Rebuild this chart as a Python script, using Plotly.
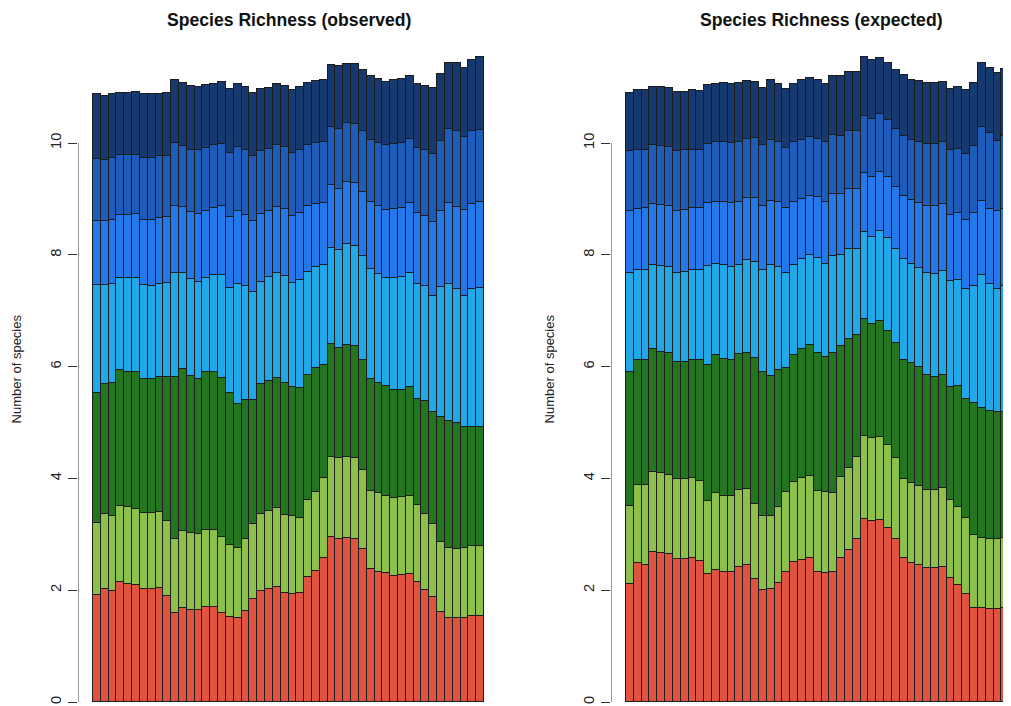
import plotly.graph_objects as go

sites = list(range(1, 51))

obs_red = [1.91,2.02,1.99,2.14,2.11,2.09,2.03,2.03,2.04,1.90, 1.59,1.68,1.65,1.64,1.70,1.70,1.60,1.52,1.50,1.62,
           1.84,1.98,2.02,2.05,1.95,1.93,1.95,2.23,2.35,2.57, 2.95,2.92,2.94,2.91,2.73,2.38,2.33,2.30,2.26,2.27,
           2.29,2.15,2.01,1.87,1.61,1.51,1.50,1.51,1.53,1.53]
obs_lgreen = [1.30,1.35,1.34,1.37,1.37,1.36,1.36,1.36,1.36,1.34, 1.33,1.38,1.37,1.36,1.37,1.37,1.35,1.29,1.25,1.29,
              1.35,1.39,1.40,1.42,1.40,1.39,1.35,1.39,1.41,1.43, 1.44,1.44,1.45,1.45,1.42,1.40,1.40,1.39,1.39,1.39,
              1.40,1.37,1.35,1.31,1.25,1.24,1.24,1.25,1.26,1.26]
obs_dgreen = [2.32,2.32,2.38,2.43,2.43,2.45,2.39,2.39,2.42,2.58, 2.90,2.90,2.82,2.78,2.83,2.83,2.85,2.71,2.58,2.49,
              2.22,2.31,2.33,2.33,2.35,2.31,2.32,2.23,2.21,2.03, 2.01,1.97,2.00,2.00,1.96,2.00,1.97,1.97,1.93,1.92,
              1.95,1.90,2.03,2.00,2.23,2.28,2.26,2.16,2.13,2.13]
obs_cyan = [1.93,1.77,1.77,1.65,1.67,1.68,1.68,1.67,1.66,1.68, 1.86,1.72,1.73,1.73,1.69,1.73,1.83,1.89,2.15,2.05,
            1.92,1.83,1.85,1.87,1.92,1.86,1.93,1.84,1.81,1.78, 1.73,1.76,1.81,1.79,1.86,1.97,1.96,1.92,2.00,2.03,
            2.04,2.05,2.05,2.09,2.33,2.45,2.38,2.35,2.47,2.49]
obs_blue = [1.15,1.14,1.14,1.13,1.14,1.15,1.17,1.17,1.18,1.18, 1.20,1.18,1.19,1.22,1.20,1.21,1.24,1.27,1.30,1.27,
            1.28,1.22,1.19,1.18,1.20,1.21,1.20,1.18,1.13,1.11, 1.11,1.09,1.10,1.13,1.15,1.19,1.22,1.23,1.24,1.23,
            1.25,1.27,1.25,1.31,1.37,1.45,1.47,1.53,1.52,1.53]
obs_mblue = [1.11,1.10,1.11,1.06,1.07,1.06,1.10,1.11,1.10,1.09, 1.12,1.09,1.12,1.14,1.12,1.12,1.12,1.14,1.15,1.16,
             1.15,1.12,1.11,1.11,1.11,1.12,1.13,1.10,1.09,1.09, 1.04,1.07,1.05,1.06,1.10,1.12,1.12,1.16,1.17,1.16,
             1.14,1.17,1.19,1.23,1.25,1.32,1.37,1.30,1.31,1.30]
obs_navy = [1.15,1.14,1.14,1.12,1.11,1.13,1.15,1.14,1.12,1.13, 1.12,1.12,1.14,1.13,1.13,1.10,1.10,1.14,1.13,1.12,
            1.13,1.11,1.09,1.10,1.09,1.13,1.13,1.11,1.11,1.12, 1.11,1.12,1.07,1.08,1.08,1.13,1.15,1.13,1.14,1.15,
            1.12,1.14,1.14,1.17,1.19,1.19,1.22,1.24,1.26,1.30]

exp_red = [2.11,2.48,2.45,2.69,2.66,2.64,2.55,2.55,2.57,2.52, 2.29,2.36,2.33,2.33,2.42,2.45,2.20,2.01,2.03,2.12,
           2.32,2.51,2.54,2.58,2.33,2.30,2.33,2.58,2.72,2.91, 3.28,3.24,3.26,3.12,2.91,2.57,2.49,2.45,2.39,2.39,
           2.42,2.21,2.09,1.94,1.69,1.68,1.66,1.66,1.68,1.69]
exp_lgreen = [1.39,1.41,1.44,1.43,1.43,1.42,1.44,1.44,1.43,1.44, 1.30,1.37,1.36,1.36,1.38,1.36,1.35,1.31,1.30,1.36,
              1.43,1.43,1.47,1.47,1.45,1.45,1.41,1.44,1.46,1.48, 1.48,1.48,1.48,1.48,1.45,1.42,1.43,1.42,1.41,1.41,
              1.40,1.40,1.39,1.35,1.30,1.26,1.26,1.26,1.26,1.26]
exp_dgreen = [2.41,2.22,2.22,2.20,2.18,2.18,2.09,2.10,2.12,2.16, 2.44,2.47,2.45,2.42,2.43,2.44,2.61,2.58,2.51,2.46,
              2.22,2.27,2.31,2.34,2.46,2.43,2.50,2.34,2.32,2.18, 2.10,2.04,2.08,2.04,2.06,2.12,2.14,2.12,2.05,2.02,
              2.03,2.03,2.18,2.13,2.35,2.32,2.29,2.26,2.24,2.23]
exp_cyan = [1.77,1.61,1.62,1.50,1.53,1.54,1.60,1.60,1.60,1.60, 1.77,1.64,1.68,1.67,1.59,1.65,1.72,1.83,1.97,1.84,
            1.71,1.61,1.61,1.60,1.70,1.66,1.73,1.64,1.60,1.53, 1.54,1.55,1.60,1.66,1.68,1.82,1.78,1.77,1.82,1.84,
            1.86,1.90,1.89,1.97,2.11,2.37,2.27,2.21,2.26,2.27]
exp_blue = [1.11,1.10,1.10,1.09,1.09,1.10,1.11,1.11,1.11,1.11, 1.13,1.11,1.13,1.15,1.13,1.11,1.14,1.15,1.16,1.16,
            1.16,1.12,1.07,1.07,1.09,1.10,1.11,1.09,1.07,1.07, 1.06,1.08,1.06,1.09,1.11,1.13,1.14,1.17,1.21,1.22,
            1.20,1.18,1.20,1.23,1.29,1.33,1.34,1.40,1.38,1.43]
exp_mblue = [1.06,1.05,1.05,1.05,1.05,1.05,1.06,1.07,1.05,1.05, 1.06,1.06,1.06,1.07,1.06,1.06,1.07,1.08,1.09,1.07,
             1.07,1.07,1.06,1.04,1.04,1.07,1.07,1.04,1.05,1.05, 1.02,1.04,1.03,1.03,1.04,1.07,1.08,1.08,1.11,1.11,
             1.10,1.15,1.15,1.19,1.20,1.32,1.36,1.25,1.31,1.34]
exp_navy = [1.05,1.07,1.06,1.05,1.06,1.05,1.06,1.05,1.06,1.05, 1.05,1.05,1.06,1.05,1.06,1.04,1.00,1.03,1.06,1.05,
            1.05,1.05,1.06,1.06,1.05,1.05,1.04,1.06,1.05,1.05, 1.06,1.05,1.01,1.01,1.05,1.08,1.07,1.10,1.08,1.08,
            1.08,1.10,1.10,1.13,1.14,1.15,1.16,1.22,1.20,1.19]

seg_colors = ["#E0543F", "#8DC04B", "#23761F", "#20A8E8", "#2378EA", "#1D5CB8", "#163A70"]
y_ticks = [0, 2, 4, 6, 8, 10]
titles = ["Species Richness (observed)", "Species Richness (expected)"]
y_label = "Number of species"

FONT = "Liberation Sans, Arial, Helvetica, sans-serif"

fig = go.Figure()
panels = [
    ([obs_red, obs_lgreen, obs_dgreen, obs_cyan, obs_blue, obs_mblue, obs_navy], "x", "y"),
    ([exp_red, exp_lgreen, exp_dgreen, exp_cyan, exp_blue, exp_mblue, exp_navy], "x2", "y2"),
]
for series, xa, ya in panels:
    for vals, col in zip(series, seg_colors):
        fig.add_trace(go.Bar(
            x=sites, y=vals, xaxis=xa, yaxis=ya,
            marker=dict(color=col, line=dict(color="#1c1c1c", width=1)),
            width=1.0, showlegend=False, hoverinfo="y",
        ))

# the page body adds an 8px offset, so the figure covers the window minus that offset
OFF = 8
W, H = 1011 - OFF, 706 - OFF
ML, MR, MT, MB = 78 - OFF, 0, 40 - OFF, 0
plot_w = W - ML - MR
px_per_unit = 7.82
px_per_y = 55.9
left_lo = 0.5 - 15 / px_per_unit
left_axis_px = 78 - OFF
left_right_px = 499 - OFF
right_axis_px = 611 - OFF


def dom(p):
    return (p - ML) / plot_w


x1_range = [left_lo, left_lo + (left_right_px - left_axis_px) / px_per_unit]
x2_range = [left_lo, left_lo + (W - right_axis_px) / px_per_unit]

zero_px = 702 - OFF
ymin = -(H - zero_px) / px_per_y
ymax = (zero_px - MT) / px_per_y

yax = dict(range=[ymin, ymax], tickvals=y_ticks, ticktext=[str(t) for t in y_ticks],
           showgrid=False, zeroline=False, showline=False,
           ticks="outside", ticklen=9, tickwidth=1, tickcolor="#333333",
           tickangle=-90, ticklabelstandoff=1,
           tickfont=dict(family=FONT, size=14.7, color="#222222"))
xax = dict(visible=False, showgrid=False, zeroline=False)

fig.update_layout(
    width=W, height=H,
    margin=dict(l=ML, r=MR, t=MT, b=MB, pad=0),
    paper_bgcolor="white", plot_bgcolor="white",
    barmode="stack", bargap=0,
    font=dict(family=FONT, color="#222222"),
    xaxis=dict(xax, domain=[0, dom(left_right_px)], range=x1_range, anchor="y"),
    yaxis=dict(yax, anchor="x"),
    xaxis2=dict(xax, domain=[dom(right_axis_px), 1], range=x2_range, anchor="y2"),
    yaxis2=dict(yax, anchor="x2"),
    showlegend=False,
)

# R-style axis lines spanning only the tick range
for xa, ya, rng in [("x", "y", x1_range), ("x2", "y2", x2_range)]:
    fig.add_shape(type="line", xref=xa, yref=ya, x0=rng[0], x1=rng[0], y0=0, y1=10,
                  line=dict(color="#333333", width=1))

# titles and axis labels
plot_h = H - MT - MB
title_centers = [(left_axis_px + left_right_px) / 2, (right_axis_px + right_axis_px + 421) / 2]
for title, cx in zip(titles, title_centers):
    fig.add_annotation(text="<b>" + title + "</b>", xref="paper", yref="paper",
                       x=dom(cx), y=(H - MB - (20 - OFF)) / plot_h, xanchor="center", yanchor="middle",
                       showarrow=False, font=dict(family=FONT, size=17.6, color="#111111"))
for lx in [16 - OFF, 549 - OFF]:
    fig.add_annotation(text=y_label, xref="paper", yref="y", x=dom(lx), y=5.95,
                       xanchor="center", yanchor="middle", textangle=-90, showarrow=False,
                       font=dict(family=FONT, size=13, color="#222222"))

fig.write_html("out.html")
